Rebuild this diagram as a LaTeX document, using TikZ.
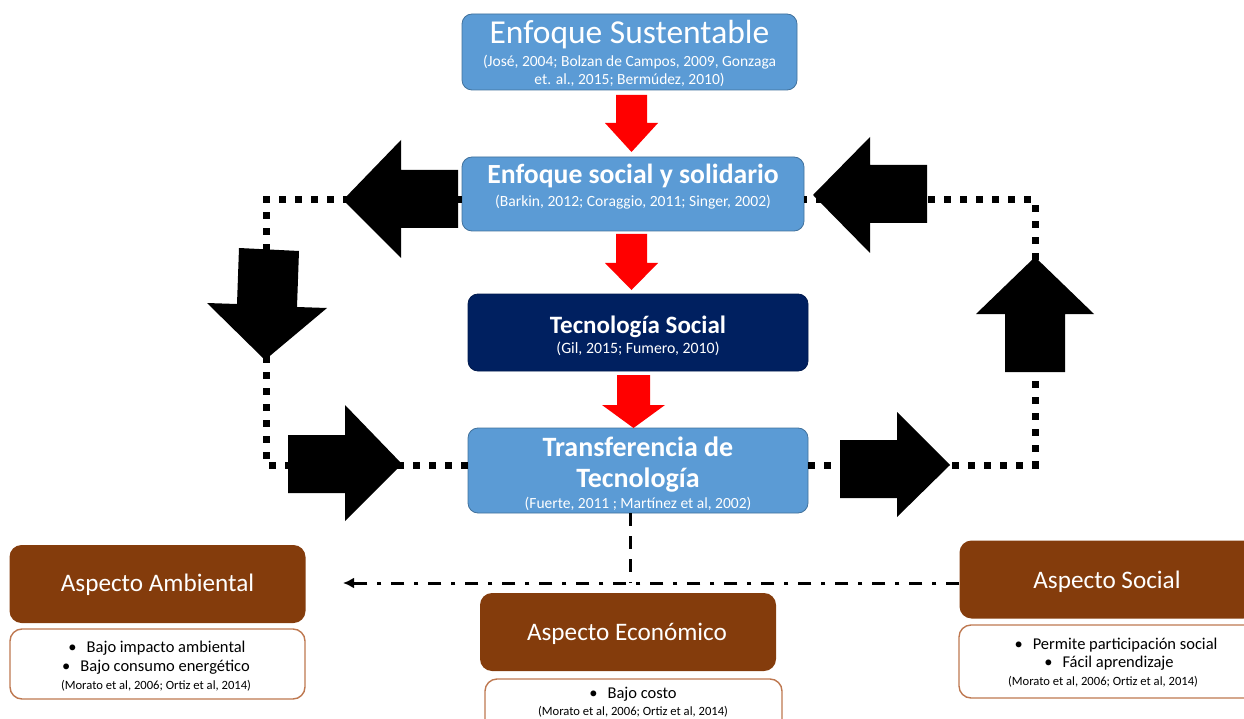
\documentclass[tikz,border=0pt]{standalone}
\usepackage{fontspec}
\setmainfont{Carlito}
\usetikzlibrary{arrows.meta,calc}

\definecolor{boxblue}{HTML}{5B9BD5}
\definecolor{boxblueline}{HTML}{41719C}
\definecolor{navyblue}{HTML}{002060}
\definecolor{aspectbrown}{HTML}{843C0C}
\definecolor{subline}{RGB}{190,120,80}
\definecolor{flowred}{HTML}{FF0000}

\newcommand\fsz[2]{\fontsize{#1pt}{#2pt}\selectfont}

% vertical block arrow: x-centre, top, head start, tip, shaft half width, head half width
\newcommand\downblock[6]{%
  \fill[flowred] (#1-#5,#2) -- (#1+#5,#2) -- (#1+#5,#3) -- (#1+#6,#3)
    -- (#1,#4) -- (#1-#6,#3) -- (#1-#5,#3) -- cycle;}

\tikzset{
  bluebox/.style={draw=boxblueline, line width=0.8pt, fill=boxblue, rounded corners=10pt},
  navybox/.style={draw=navyblue!80!black, line width=0.8pt, fill=navyblue, rounded corners=10pt},
  brownbox/.style={fill=aspectbrown, rounded corners=12pt, minimum width=296pt, minimum height=78pt},
  subbox/.style={draw=subline, line width=1.4pt, fill=white, rounded corners=12pt},
  wtxt/.style={text=white, inner sep=0pt, anchor=base},
  btxt/.style={text=black, inner sep=0pt, anchor=base},
  dotline/.style={line width=7pt, dash pattern=on 7pt off 9pt},
  dashdotline/.style={line width=3pt, dash pattern=on 13pt off 10pt on 4pt off 10pt},
  dashline/.style={line width=3pt, dash pattern=on 13pt off 10pt},
  blockarrow/.style={fill=black},
}

\begin{document}
\begin{tikzpicture}[x=1pt,y=-1pt]
\useasboundingbox (0,0) rectangle (1244,719);
\clip (0,0) rectangle (1244,719);

% ---------- corners of the dotted feedback loops ----------
\coordinate (lt) at (266,200);
\coordinate (lb) at (266,465);
\coordinate (rt) at (1035,200);
\coordinate (rb) at (1035,465);

% ---------- main column boxes ----------
\node[bluebox, minimum width=335pt, minimum height=76pt] (b1) at (629.5,52) {};
\node[bluebox, minimum width=342pt, minimum height=74pt] (b2) at (633,194) {};
\node[navybox, minimum width=340pt, minimum height=77pt] (b3) at (638,332.5) {};
\node[bluebox, minimum width=340pt, minimum height=85pt] (b4) at (638,470.5) {};

\draw[dotline] (b2.west |- lt) -- (lt) -- (lb) -- (b4.west |- lb);
\draw[dotline] (b4.east |- rb) -- (rb) -- (rt) -- (b2.east |- rt);

% texts of the main column
\node[wtxt] (t1) at (629.5,44) {\fsz{33.5}{36}Enfoque Sustentable};
\node[wtxt] (s1a) at (629.5,67) {\fsz{15.5}{18}(José, 2004; Bolzan de Campos, 2009, Gonzaga};
\node[wtxt] (s1b) at (629.5,85) {\fsz{15.5}{18}et. al., 2015; Bermúdez, 2010)};

\node[wtxt] (t2) at (633,184) {\fsz{27.7}{30}\bfseries Enfoque social y solidario};
\node[wtxt] (s2) at (633,207) {\fsz{15.6}{18}(Barkin, 2012; Coraggio, 2011; Singer, 2002)};

\node[wtxt] (t3) at (638,333) {\fsz{25}{28}\bfseries Tecnología Social};
\node[wtxt] (s3) at (638,353) {\fsz{15.8}{18}(Gil, 2015; Fumero, 2010)};

\node[wtxt] (t4a) at (638,456) {\fsz{28}{30}\bfseries Transferencia de};
\node[wtxt] (t4b) at (638,487) {\fsz{28}{30}\bfseries Tecnología};
\node[wtxt] (s4) at (638,508) {\fsz{15.5}{18}(Fuerte, 2011 ; Martínez et al, 2002)};

% ---------- red flow arrows ----------
\downblock{631.5}{95}{123}{152}{15.5}{26.5}
\downblock{631.5}{234}{263}{290}{15.5}{26.5}
\downblock{633.5}{375}{405}{428}{16.5}{31.5}

% ---------- black block arrows ----------
% top left, pointing left
\fill[blockarrow] (458,170) -- (401,170) -- (401,140) -- (343,200) -- (401,258)
  -- (401,228) -- (458,228) -- cycle;
% left, pointing down
\fill[blockarrow] (239,248) -- (299,251) -- (297,307) -- (327,308) -- (265,360)
  -- (207,303) -- (237,304) -- cycle;
% bottom left, pointing right
\fill[blockarrow] (288,435) -- (345,435) -- (345,405) -- (402,464) -- (345,521)
  -- (345,493) -- (288,493) -- cycle;
% top right, pointing left
\fill[blockarrow] (927,165) -- (870,165) -- (870,137) -- (813,195) -- (870,253)
  -- (870,223) -- (927,223) -- cycle;
% right, pointing up
\fill[blockarrow] (1005,372) -- (1005,314) -- (976,314) -- (1035,257) -- (1094,314)
  -- (1065,314) -- (1065,372) -- cycle;
% bottom right, pointing right
\fill[blockarrow] (840,440) -- (897,440) -- (897,412) -- (950,465) -- (897,517)
  -- (897,498) -- (840,498) -- cycle;

% ---------- aspect boxes ----------
\node[brownbox] (amb) at (157.5,584) {};
\node[brownbox] (soc) at (1107.5,579.5) {};
\node[brownbox] (eco) at (628,632) {};

\node[subbox, minimum width=295pt, minimum height=70pt] (ambs) at (157.5,664) {};
\node[subbox, minimum width=297pt, minimum height=73pt] (socs) at (1107.5,661.5) {};
\node[subbox, minimum width=297pt, minimum height=60pt] (ecos) at (633.5,709) {};

\node[wtxt] (ambt) at (157.5,591) {\fsz{25.2}{28}Aspecto Ambiental};
\node[wtxt] (soct) at (1107,588) {\fsz{25.2}{28}Aspecto Social};
\node[wtxt] (ecot) at (627,640) {\fsz{25.2}{28}Aspecto Económico};

\node[btxt] (amb1) at (157,652) {\fsz{16.5}{18}•\hspace{10pt}Bajo impacto ambiental};
\node[btxt] (amb2) at (156,671) {\fsz{16.5}{18}•\hspace{10pt}Bajo consumo energético};
\node[btxt] (amb3) at (156,689) {\fsz{12.6}{14}(Morato et al, 2006; Ortiz et al, 2014)};

\node[btxt] (soc1) at (1116,649) {\fsz{16.5}{18}•\hspace{10pt}Permite participación social};
\node[btxt] (soc2) at (1109,667) {\fsz{16.5}{18}•\hspace{10pt}Fácil aprendizaje};
\node[btxt] (soc3) at (1103,685) {\fsz{12.6}{14}(Morato et al, 2006; Ortiz et al, 2014)};

\node[btxt] (eco1) at (633,698) {\fsz{16.5}{18}•\hspace{10pt}Bajo costo};
\node[btxt] (eco2) at (633,715) {\fsz{12.6}{14}(Morato et al, 2006; Ortiz et al, 2014)};

% ---------- dash-dot link from the transfer box to the aspects ----------
\coordinate (dj) at (630,583);
\coordinate (dl) at (343,583);
\draw[dashline] (b4.south -| dj) -- (dj);
\draw[dashdotline, -{Latex[length=11pt,width=11pt]}] (soc.west |- dj) -- (dl);
\end{tikzpicture}
\end{document}
